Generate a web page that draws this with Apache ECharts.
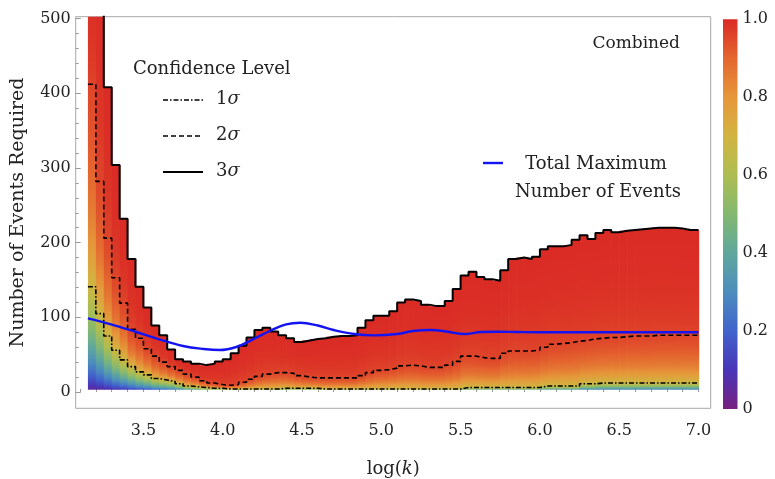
<!DOCTYPE html>
<html><head><meta charset="utf-8">
<script src="https://cdn.jsdelivr.net/npm/echarts@6/dist/echarts.min.js"></script>
<style>html,body{margin:0;padding:0;background:#fff}#c{width:775px;height:479px}</style>
</head><body><div id="c"></div>
<script>
// ---------------- data ----------------
const BIN_LEFT = [3.15,3.2,3.25,3.3,3.35,3.4,3.45,3.5,3.55,3.6,3.65,3.7,3.75,3.8,3.85,3.9,3.95,
  4,4.05,4.1,4.15,4.2,4.25,4.3,4.35,4.4,4.45,4.5,4.55,4.6,4.65,4.7,4.75,4.8,4.85,4.9,4.95,
  5,5.05,5.1,5.15,5.2,5.25,5.3,5.35,5.4,5.45,5.5,5.55,5.6,5.65,5.7,5.75,5.8,5.85,5.9,5.95,
  6,6.05,6.1,6.15,6.2,6.25,6.3,6.35,6.4,6.45,6.5,6.55,6.6,6.65,6.7,6.75,6.8,6.85,6.9,6.95];
const BIN_WIDTH = 0.05;
const SIGMA3 = [600,600,408,304,232,178,141,113,89,76, 57,44,41,38,36,38,41,44,52,62,
  73,83,86,81,76,72,67,69,71,72, 74,75,75,76,86,96,102,102,108,120,
  124,122,117,115,115,122,138,156,161,154, 151,149,163,178,180,178,181,191,195,195,
  197,204,210,205,213,217,214,216,217,218, 219,220,220,220,219,217,217];
const SIGMA2 = [412,282,206,153,119,84,72,58,48,40, 34,29,24,20,15,12,10,9,10,13,
  17,21,24,26,26,25,22,20,19,19, 19,19,19,19,22,26,29,30,32,35,
  36,35,33,33,33,36,41,48,48,46, 45,45,52,55,55,55,56,60,64,65,
  66,68,69,71,72,73,73,74,75,75, 75,76,76,76,76,76,76];
const SIGMA1 = [141,105,75,56,43,34,27,23,18,16, 14,11,8,7,6,5,5,4,4,4,
  4,4,4,4,5,5,5,5,5,4, 4,4,4,4,4,4,4,4,4,4,
  4,4,4,4,4,4,4,6,6,6, 6,6,6,6,6,6,6,8,8,8,
  8,8,11,11,12,12,12,12,12,12, 12,12,12,12,12,12,12];
const BASE_EVENTS = 3;
const TOTAL_X = [3.15,3.29,3.45,3.6,3.75,3.88,3.98,4.09,4.19,4.3,4.4,4.49,4.6,4.7,4.83,4.95,5.1,5.2,5.31,5.42,5.52,5.63,5.73,5.86,6.0,6.2,6.4,6.6,6.8,7.0];
const TOTAL_Y = [98.6,91,80.7,70.5,61.6,57.6,56.2,60.6,70.5,82,90.6,92.8,89,83,77.6,75.9,77.6,81.7,83,80.7,77.6,80.3,80.7,80.3,80,80,80,80,80,80];
const X_LABELS = [3.5,4,4.5,5,5.5,6,6.5,7];
const X_TICKS = [3.1,3.2,3.3,3.4,3.5,3.6,3.7,3.8,3.9,4,4.1,4.2,4.3,4.4,4.5,4.6,4.7,4.8,4.9,5,5.1,5.2,5.3,5.4,5.5,5.6,5.7,5.8,5.9,6,6.1,6.2,6.3,6.4,6.5,6.6,6.7,6.8,6.9,7];
const Y_LABELS = [0,100,200,300,400,500];
const Y_TICKS = [0,20,40,60,80,100,120,140,160,180,200,220,240,260,280,300,320,340,360,380,400,420,440,460,480,500];
const CBAR_LABELS = [0,0.2,0.4,0.6,0.8,1];

// ---------------- style ----------------
const F = 'DejaVu Serif';
const X_MIN = 3.073, X_MAX = 7.077, Y_MIN = -21.8, Y_MAX = 502.5;
const CMAP = [[0,[120,32,127]],[0.1,[73,53,184]],[0.2,[65,99,204]],[0.3,[76,141,189]],[0.4,[95,167,157]],
  [0.5,[132,184,112]],[0.6,[174,189,82]],[0.7,[210,180,65]],[0.8,[229,151,58]],[0.9,[228,102,47]],[1,[218,42,37]]];
function cmap(t){
  t = Math.max(0, Math.min(1, t));
  for (let i = 1; i < CMAP.length; i++) {
    if (t <= CMAP[i][0]) {
      const a = CMAP[i-1], b = CMAP[i], f = (t - a[0]) / (b[0] - a[0]);
      return 'rgb(' + [0,1,2].map(k => Math.round(a[1][k] + f * (b[1][k] - a[1][k]))).join(',') + ')';
    }
  }
  return 'rgb(218,42,37)';
}
function erf(x){
  const s = x < 0 ? -1 : 1; x = Math.abs(x);
  const t = 1 / (1 + 0.3275911 * x);
  const y = 1 - (((((1.061405429*t - 1.453152027)*t) + 1.421413741)*t - 0.284496736)*t + 0.254829592)*t*Math.exp(-x*x);
  return s * y;
}
function conf(y, n1, n2, n3){
  let s2;
  if (y <= n1) s2 = Math.pow(y / n1, 1.5);
  else if (y <= n2) s2 = 1 + 3 * (y - n1) / (n2 - n1);
  else s2 = 4 + 5 * (y - n2) / Math.max(1e-6, (n3 - n2));
  return erf(Math.sqrt(Math.max(0, s2)) / Math.SQRT2);
}

const heatData = BIN_LEFT.map((x, i) => [x, x + BIN_WIDTH, SIGMA1[i], SIGMA2[i], SIGMA3[i]]);
function stepPoints(arr){
  const pts = BIN_LEFT.map((x, i) => [x, arr[i]]);
  pts.push([BIN_LEFT[BIN_LEFT.length-1] + BIN_WIDTH, arr[arr.length-1]]);
  return pts;
}

function renderHeat(params, api){
  const x0 = api.value(0), x1 = api.value(1), n1 = api.value(2), n2 = api.value(3), n3 = api.value(4);
  const top = Math.min(n3, Y_MAX);
  const pTop = api.coord([x0, top]);
  const pBot = api.coord([x1, BASE_EVENTS]);
  const stops = [];
  const K = 48;
  for (let k = 0; k <= K; k++) {
    const f = k / K;
    const yv = BASE_EVENTS + (top - BASE_EVENTS) * f * f;
    stops.push({offset: 1 - (yv - BASE_EVENTS) / (top - BASE_EVENTS), color: cmap(conf(yv, n1, n2, n3))});
  }
  stops.sort((a, b) => a.offset - b.offset);
  return {type: 'rect', silent: true,
    shape: {x: pTop[0], y: pTop[1], width: pBot[0] - pTop[0] + 0.7, height: pBot[1] - pTop[1]},
    style: {fill: new echarts.graphic.LinearGradient(0, 0, 0, 1, stops)}};
}
function renderBar(params, api){
  const pTop = api.coord([0, 1]);
  const pBot = api.coord([1, 0]);
  const stops = [];
  for (let k = 0; k <= 20; k++) stops.push({offset: k / 20, color: cmap(1 - k / 20)});
  return {type: 'rect', silent: true,
    shape: {x: pTop[0], y: pTop[1], width: pBot[0] - pTop[0], height: pBot[1] - pTop[1]},
    style: {fill: new echarts.graphic.LinearGradient(0, 0, 0, 1, stops)}};
}

const chart = echarts.init(document.getElementById('c'), null, {renderer: 'canvas'});
const tickStyle = {color: '#999', width: 1};
const txt = {fontFamily: F, color: '#222'};
const rich18 = {n: {font: '18px "DejaVu Serif"', fill: '#222'}, s: {font: 'italic 18px "DejaVu Serif"', fill: '#222'}};
chart.setOption({
  animation: false,
  backgroundColor: '#fff',
  grid: [
    {left: 75.7, right: 64.3, top: 16.7, bottom: 70.7, show: true, borderColor: '#a8a8a8', borderWidth: 1,
      containLabel: false, outerBoundsMode: 'none'},
    {left: 723, top: 19.3, width: 14.5, height: 389.7, containLabel: false, outerBoundsMode: 'none'}
  ],
  xAxis: [
    {type: 'value', gridIndex: 0, min: X_MIN, max: X_MAX,
      name: '{n|log(}{i|k}{n|)}', nameLocation: 'middle', nameGap: 52,
      nameTextStyle: {rich: {n: {fontFamily: F, fontSize: 18, color: '#222'}, i: {fontFamily: F, fontSize: 18, color: '#222', fontStyle: 'italic'}}},
      axisLine: {show: false}, splitLine: {show: false},
      axisTick: {show: true, inside: true, length: 3, lineStyle: tickStyle, customValues: X_TICKS},
      axisLabel: Object.assign({fontSize: 16, margin: 15, customValues: X_LABELS, formatter: v => v.toFixed(1)}, txt)},
    {type: 'value', gridIndex: 1, min: 0, max: 1, show: false}
  ],
  yAxis: [
    {type: 'value', gridIndex: 0, min: Y_MIN, max: Y_MAX,
      name: 'Number of Events Required', nameLocation: 'middle', nameGap: 48, nameRotate: 90,
      nameTextStyle: {fontFamily: F, fontSize: 19, color: '#222'},
      axisLine: {show: false}, splitLine: {show: false},
      axisTick: {show: true, inside: true, length: 5, lineStyle: tickStyle, customValues: Y_LABELS},
      axisLabel: Object.assign({fontSize: 16, margin: 5, customValues: Y_LABELS}, txt)},
    {type: 'value', gridIndex: 0, min: Y_MIN, max: Y_MAX, position: 'left',
      axisLine: {show: false}, splitLine: {show: false}, axisLabel: {show: false},
      axisTick: {show: true, inside: true, length: 3, lineStyle: tickStyle, customValues: Y_TICKS}},
    {type: 'value', gridIndex: 1, min: 0, max: 1, position: 'right',
      axisLine: {show: false}, splitLine: {show: false}, axisTick: {show: false},
      axisLabel: Object.assign({fontSize: 16, margin: 5, customValues: CBAR_LABELS, formatter: v => v === 0 ? '0' : v.toFixed(1)}, txt)}
  ],
  series: [
    {name: 'Confidence', type: 'custom', xAxisIndex: 0, yAxisIndex: 0, renderItem: renderHeat, data: heatData,
      encode: {x: [0, 1], y: 4}, z: 1, silent: true},
    {name: '1σ', type: 'line', xAxisIndex: 0, yAxisIndex: 0, step: 'end', data: stepPoints(SIGMA1), symbol: 'none',
      lineStyle: {color: '#000', width: 1.6, type: [5, 2, 1.5, 2]}, z: 3, silent: true},
    {name: '2σ', type: 'line', xAxisIndex: 0, yAxisIndex: 0, step: 'end', data: stepPoints(SIGMA2), symbol: 'none',
      lineStyle: {color: '#000', width: 1.6, type: [5, 3]}, z: 3, silent: true},
    {name: '3σ', type: 'line', xAxisIndex: 0, yAxisIndex: 0, step: 'end', data: stepPoints(SIGMA3), symbol: 'none',
      lineStyle: {color: '#000', width: 2}, z: 3, silent: true},
    {name: 'Total Maximum Number of Events', type: 'line', xAxisIndex: 0, yAxisIndex: 0, smooth: 0.4,
      data: TOTAL_X.map((x, i) => [x, TOTAL_Y[i]]), symbol: 'none',
      lineStyle: {color: '#1414f0', width: 2.4}, z: 4, silent: true},
    {name: 'Colour scale', type: 'custom', xAxisIndex: 1, yAxisIndex: 2, renderItem: renderBar, data: [[0, 1]], silent: true}
  ],
  graphic: [
    {type: 'text', left: 133, top: 60, style: {text: 'Confidence Level', font: '18px "DejaVu Serif"', fill: '#222'}},
    {type: 'line', shape: {x1: 163, y1: 100, x2: 203, y2: 100}, style: {stroke: '#000', lineWidth: 1.6, lineDash: [5, 2, 1.5, 2]}},
    {type: 'line', shape: {x1: 163, y1: 136, x2: 203, y2: 136}, style: {stroke: '#000', lineWidth: 1.6, lineDash: [5, 3]}},
    {type: 'line', shape: {x1: 163, y1: 172, x2: 203, y2: 172}, style: {stroke: '#000', lineWidth: 2}},
    {type: 'text', left: 216, top: 90, style: {text: '{n|1}{s|σ}', rich: rich18}},
    {type: 'text', left: 216, top: 126, style: {text: '{n|2}{s|σ}', rich: rich18}},
    {type: 'text', left: 216, top: 162, style: {text: '{n|3}{s|σ}', rich: rich18}},
    {type: 'text', right: 95, top: 35, style: {text: 'Combined', font: '17px "DejaVu Serif"', fill: '#222'}},
    {type: 'line', shape: {x1: 483, y1: 163, x2: 503, y2: 163}, style: {stroke: '#1414f0', lineWidth: 2.4}},
    {type: 'text', x: 596, y: 164, style: {text: 'Total Maximum', font: '18px "DejaVu Serif"', fill: '#222', align: 'center', verticalAlign: 'middle'}},
    {type: 'text', x: 598, y: 192, style: {text: 'Number of Events', font: '18px "DejaVu Serif"', fill: '#222', align: 'center', verticalAlign: 'middle'}}
  ]
});
</script>
</body></html>
